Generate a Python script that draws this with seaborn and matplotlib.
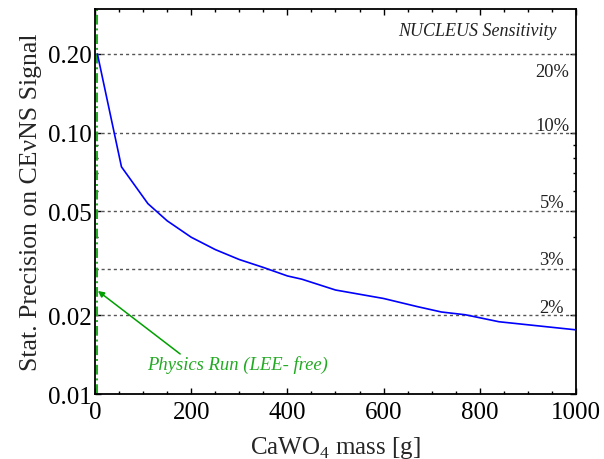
import numpy as np
import pandas as pd
import matplotlib
matplotlib.use("Agg")
import matplotlib.pyplot as plt
from matplotlib.ticker import FixedLocator, NullFormatter, MultipleLocator
import seaborn as sns

# Statistical precision vs. detector mass
mass_g = [5, 55, 110, 150, 200, 250, 300, 350, 400, 430, 500, 600, 670, 720, 770, 840, 1000]
precision = [0.200, 0.074, 0.0535, 0.046, 0.0398, 0.0357, 0.0327, 0.0305, 0.0283,
             0.0275, 0.0250, 0.0232, 0.0216, 0.0206, 0.0201, 0.0189, 0.0176]

# Reference precision levels
ref_levels = [0.20, 0.10, 0.05, 0.03, 0.02]
ref_labels = ["20%", "10%", "5%", "3%", "2%"]

y_ticks = [0.01, 0.02, 0.05, 0.10, 0.20]
y_tick_labels = ["0.01", "0.02", "0.05", "0.10", "0.20"]
x_ticks = [0, 200, 400, 600, 800, 1000]

physics_run_mass = 5

sns.set_style("ticks")
plt.rcParams["font.family"] = ["Liberation Serif", "DejaVu Serif"]
plt.rcParams["mathtext.fontset"] = "custom"
plt.rcParams["mathtext.rm"] = "Liberation Serif"

df = pd.DataFrame({"mass": mass_g, "precision": precision})

fig = plt.figure(figsize=(6.04, 4.60), dpi=100)
ax = fig.add_axes([0.1573, 0.1413, 0.7963, 0.8367])

for lvl in ref_levels:
    ax.plot([0, 1000], [lvl, lvl], color="#555555", lw=1.0, ls=(0, (2.2, 2.2)), zorder=1)

sns.lineplot(data=df, x="mass", y="precision", ax=ax, color="#0000ff", lw=1.2, zorder=3)

ax.axvline(physics_run_mass, color="#22aa22", lw=1.4, ls=(0, (5, 2, 1, 2)), zorder=2)

ax.set_yscale("log")
ax.set_xlim(0, 1000)
ax.set_ylim(0.01, 0.297)

# Percent labels near the right edge
label_y = [0.1718, 0.1062, 0.0542, 0.0326, 0.0215]
for yv, txt in zip(label_y, ref_labels):
    ax.text(950, yv, txt, ha="center", va="center", fontsize=13.3, color="#222222")

ax.text(796, 0.2466, "NUCLEUS Sensitivity", ha="center", va="center",
        fontsize=13, style="italic", color="#222222")

ax.annotate("", xy=(6, 0.0248), xytext=(177, 0.01423),
            arrowprops=dict(arrowstyle="-|>", color="#00a000", lw=1.1,
                            mutation_scale=9, shrinkA=0, shrinkB=0))
ax.text(297, 0.01303, "Physics Run (LEE- free)", ha="center", va="center",
        fontsize=13.4, style="italic", color="#22aa22")

ax.xaxis.set_major_locator(FixedLocator(x_ticks))
ax.xaxis.set_minor_locator(MultipleLocator(50))
ax.yaxis.set_major_locator(FixedLocator(y_ticks))
ax.set_yticklabels(y_tick_labels)
ax.yaxis.set_minor_locator(FixedLocator([0.03, 0.04, 0.06, 0.07, 0.08, 0.09, 0.3]))
ax.yaxis.set_minor_formatter(NullFormatter())

ax.tick_params(which="both", direction="in", top=True, right=True, colors="black",
               labelsize=18, width=1.0)
ax.tick_params(which="major", length=4.5)
ax.tick_params(which="minor", length=2.5)
ax.tick_params(axis="x", which="major", pad=5)
ax.tick_params(axis="y", which="major", pad=2)

for sp in ax.spines.values():
    sp.set_linewidth(1.3)
    sp.set_color("black")

ax.set_xlabel("CaWO$_4$ mass [g]", fontsize=18, labelpad=8)
ax.set_ylabel("Stat. Precision on CEνNS Signal", fontsize=18.5, labelpad=5)

fig.savefig("out.png", dpi=100)
